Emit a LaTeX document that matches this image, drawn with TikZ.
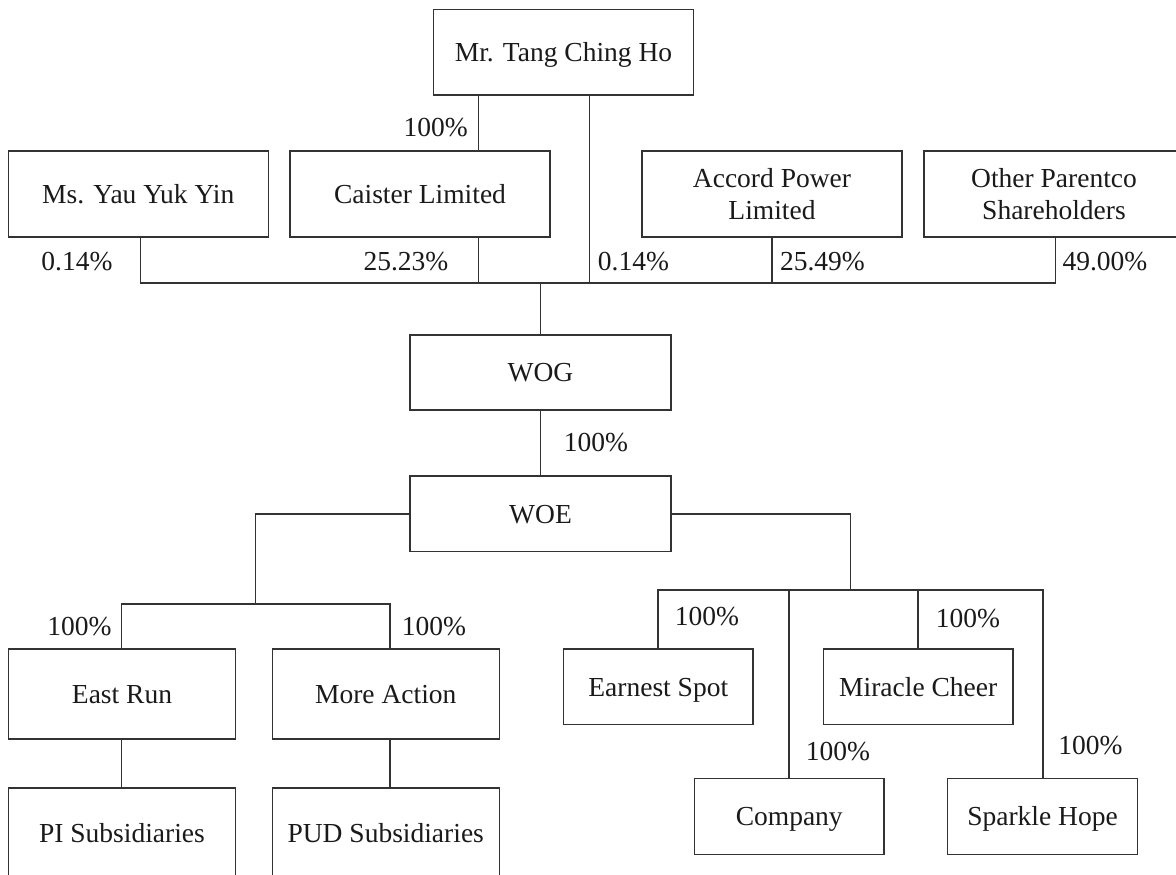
\documentclass[tikz,border=0pt]{standalone}
\usepackage{fontspec}
\setmainfont{Liberation Serif}
\definecolor{linec}{HTML}{333333}
\definecolor{txtc}{HTML}{1A1A1A}
\begin{document}
\begin{tikzpicture}[x=1pt,y=-1pt,
  box/.style={draw=linec, line width=1.1pt, rectangle, inner sep=0pt, align=center,
    font=\fontsize{27.5}{32}\selectfont, text=txtc},
  one/.style={text height=18.5pt, text depth=0pt},
  bigbox/.style={box, minimum width=260pt, minimum height=86pt},
  midbox/.style={box, one, minimum width=227pt, minimum height=90pt},
  smallbox/.style={box, one, minimum width=189.5pt, minimum height=75.5pt},
  pct/.style={inner sep=0pt, font=\fontsize{27.5}{32}\selectfont, text=txtc},
  conn/.style={draw=linec, line width=1.1pt}]
\useasboundingbox (0,0) rectangle (1176,875);
\clip (0,0) rectangle (1176,875);
\fill[white] (0,0) rectangle (1176,875);

% top level
\node[bigbox, one, minimum height=85.5pt] (tang) at (563.5,52.25) {Mr. Tang Ching Ho};
\node[bigbox, one] (yau) at (138.25,194) {Ms. Yau Yuk Yin};
\node[bigbox, one] (caister) at (420,194) {Caister Limited};
\node[bigbox] (accord) at (772,194) {Accord Power\\Limited};
\node[bigbox] (other) at (1054,194) {Other Parentco\\Shareholders};

\node[box, one, minimum width=261pt, minimum height=75pt] (wog) at (540.5,372.5) {WOG};
\node[box, one, minimum width=261pt, minimum height=75.5pt] (woe) at (540.5,513.75) {WOE};

\node[midbox] (east) at (122,694) {East Run};
\node[midbox] (more) at (385.75,694) {More Action};
\node[midbox] (pi) at (122,833) {PI Subsidiaries};
\node[midbox] (pud) at (385.75,833) {PUD Subsidiaries};

\node[smallbox] (earnest) at (658.25,686.75) {Earnest Spot};
\node[smallbox] (miracle) at (918.25,686.75) {Miracle Cheer};
\node[smallbox] (company) at (789.25,816.5) {Company};
\node[smallbox] (sparkle) at (1042.5,816.5) {Sparkle Hope};

% junction coordinates
\coordinate (cx) at (478.4,283);
\coordinate (tx) at (589.4,283);
\coordinate (yx) at (140.5,283);
\coordinate (ax) at (772,283);
\coordinate (ox) at (1055.5,283);
\coordinate (gx) at (540.4,283);
\coordinate (lcorner) at (255.6,514);
\coordinate (lbar) at (255.6,604);
\coordinate (lb1) at (121.3,604);
\coordinate (lb2) at (390,604);
\coordinate (rcorner) at (850.3,514);
\coordinate (rbar) at (850.3,590);
\coordinate (rb1) at (658,590);
\coordinate (rb2) at (789,590);
\coordinate (rb3) at (918,590);
\coordinate (rb4) at (1043,590);

% connectors
\draw[conn] (tang.south -| cx) -- (caister.north -| cx);
\draw[conn] (caister.south -| cx) -- (cx);
\draw[conn] (tang.south -| tx) -- (tx);
\draw[conn] (yau.south -| yx) -- (yx) -- (ox) -- (other.south -| ox);
\draw[conn] (accord.south -| ax) -- (ax);
\draw[conn] (gx) -- (wog.north -| gx);
\draw[conn] (wog.south -| gx) -- (woe.north -| gx);

\draw[conn] (woe.west |- lcorner) -- (lcorner) -- (lbar);
\draw[conn] (east.north -| lb1) -- (lb1) -- (lb2) -- (more.north -| lb2);
\draw[conn] (east.south -| lb1) -- (pi.north -| lb1);
\draw[conn] (more.south -| lb2) -- (pud.north -| lb2);

\draw[conn] (woe.east |- rcorner) -- (rcorner) -- (rbar);
\draw[conn] (earnest.north -| rb1) -- (rb1) -- (rb4) -- (sparkle.north -| rb4);
\draw[conn] (rb2) -- (company.north -| rb2);
\draw[conn] (rb3) -- (miracle.north -| rb3);

% percentages
\node[pct, anchor=east] (p1) at (468,128) {100\%};
\node[pct] (p2) at (77,262) {0.14\%};
\node[pct] (p3) at (406,262) {25.23\%};
\node[pct] (p4) at (633.5,262) {0.14\%};
\node[pct] (p5) at (822.5,262) {25.49\%};
\node[pct] (p6) at (1105,262) {49.00\%};
\node[pct] (p7) at (596,443) {100\%};
\node[pct] (p8) at (79.5,627) {100\%};
\node[pct] (p9) at (434,627) {100\%};
\node[pct] (p10) at (707,617) {100\%};
\node[pct] (p11) at (968,619) {100\%};
\node[pct] (p12) at (838,752) {100\%};
\node[pct] (p13) at (1090.5,746) {100\%};
\end{tikzpicture}
\end{document}
